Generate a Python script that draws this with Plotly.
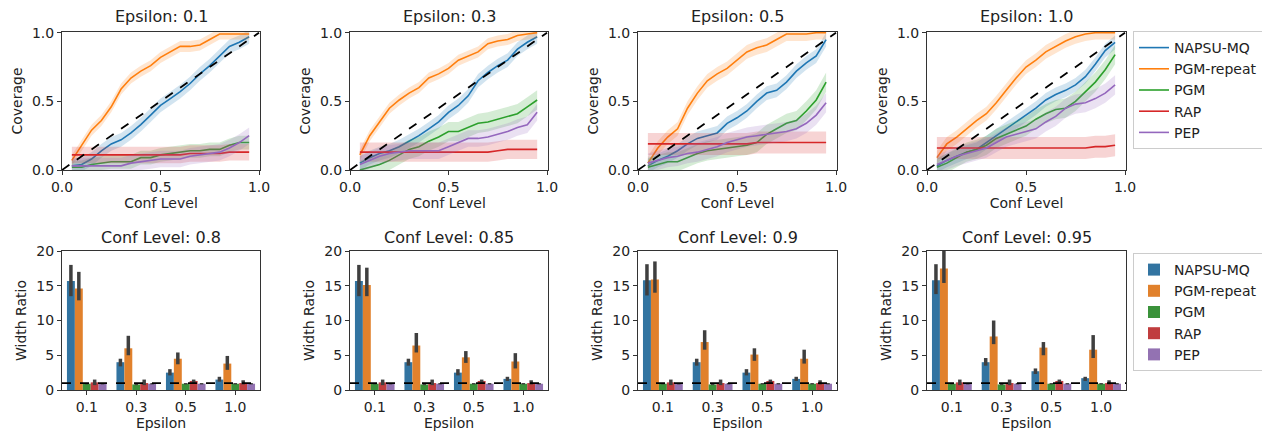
import plotly.graph_objects as go

W, H = 1270, 436
OFF = 8  # page body margin in the browser

METHODS = ["NAPSU-MQ", "PGM-repeat", "PGM", "RAP", "PEP"]
LINE_COLORS = ["#1f77b4", "#ff7f0e", "#2ca02c", "#d62728", "#9467bd"]
BAR_COLORS = ["#3274a1", "#e1812c", "#3a923a", "#c03d3e", "#9372b2"]
BAND_COLORS = ["rgba(31,119,180,0.2)", "rgba(255,127,14,0.2)", "rgba(44,160,44,0.2)",
               "rgba(214,39,40,0.2)", "rgba(148,103,189,0.2)"]

EPSILONS = ["0.1", "0.3", "0.5", "1.0"]
CONF_LEVELS = [0.05, 0.10, 0.15, 0.20, 0.25, 0.30, 0.35, 0.40, 0.45, 0.50,
               0.55, 0.60, 0.65, 0.70, 0.75, 0.80, 0.85, 0.90, 0.95]

# coverage curves, one list per method, per epsilon
cov_eps01 = [
    [0.03, 0.04, 0.08, 0.14, 0.19, 0.22, 0.27, 0.33, 0.40, 0.47, 0.52, 0.57, 0.63, 0.70, 0.76, 0.83, 0.90, 0.93, 0.97],
    [0.07, 0.18, 0.29, 0.36, 0.46, 0.59, 0.67, 0.72, 0.76, 0.82, 0.86, 0.90, 0.90, 0.91, 0.95, 0.99, 0.99, 0.99, 0.99],
    [0.02, 0.02, 0.04, 0.05, 0.06, 0.06, 0.06, 0.09, 0.09, 0.11, 0.12, 0.13, 0.14, 0.14, 0.15, 0.15, 0.18, 0.20, 0.20],
    [0.11, 0.11, 0.11, 0.11, 0.11, 0.11, 0.11, 0.11, 0.11, 0.11, 0.11, 0.11, 0.12, 0.12, 0.12, 0.12, 0.13, 0.13, 0.13],
    [0.03, 0.03, 0.03, 0.03, 0.03, 0.03, 0.05, 0.06, 0.07, 0.08, 0.08, 0.08, 0.10, 0.11, 0.12, 0.13, 0.16, 0.20, 0.25],
]
cov_eps03 = [
    [0.05, 0.09, 0.12, 0.14, 0.17, 0.21, 0.25, 0.30, 0.35, 0.42, 0.47, 0.54, 0.65, 0.71, 0.76, 0.80, 0.88, 0.93, 0.97],
    [0.11, 0.25, 0.35, 0.45, 0.51, 0.56, 0.60, 0.67, 0.70, 0.74, 0.80, 0.83, 0.86, 0.92, 0.94, 0.95, 0.98, 0.99, 1.00],
    [0.00, 0.02, 0.04, 0.07, 0.11, 0.15, 0.17, 0.21, 0.24, 0.28, 0.28, 0.31, 0.34, 0.35, 0.37, 0.39, 0.41, 0.46, 0.51],
    [0.13, 0.13, 0.13, 0.13, 0.13, 0.13, 0.13, 0.13, 0.13, 0.13, 0.13, 0.13, 0.13, 0.13, 0.14, 0.15, 0.15, 0.15, 0.15],
    [0.04, 0.07, 0.10, 0.12, 0.13, 0.14, 0.14, 0.14, 0.14, 0.17, 0.20, 0.23, 0.23, 0.24, 0.26, 0.28, 0.31, 0.33, 0.42],
]
cov_eps05 = [
    [0.03, 0.07, 0.10, 0.14, 0.19, 0.23, 0.25, 0.27, 0.34, 0.38, 0.43, 0.50, 0.56, 0.58, 0.64, 0.72, 0.78, 0.83, 0.95],
    [0.05, 0.16, 0.24, 0.30, 0.45, 0.56, 0.65, 0.70, 0.74, 0.80, 0.86, 0.89, 0.91, 0.95, 0.99, 0.99, 0.99, 1.00, 1.00],
    [0.02, 0.04, 0.06, 0.06, 0.09, 0.12, 0.14, 0.15, 0.16, 0.17, 0.18, 0.20, 0.26, 0.30, 0.34, 0.36, 0.43, 0.51, 0.64],
    [0.19, 0.19, 0.19, 0.19, 0.19, 0.19, 0.19, 0.19, 0.19, 0.19, 0.19, 0.20, 0.20, 0.20, 0.20, 0.20, 0.20, 0.20, 0.20],
    [0.05, 0.07, 0.09, 0.10, 0.12, 0.13, 0.15, 0.17, 0.20, 0.22, 0.24, 0.25, 0.26, 0.27, 0.28, 0.30, 0.34, 0.40, 0.49],
]
cov_eps10 = [
    [0.03, 0.07, 0.10, 0.13, 0.15, 0.20, 0.25, 0.30, 0.35, 0.40, 0.45, 0.51, 0.55, 0.58, 0.62, 0.68, 0.77, 0.87, 0.93],
    [0.09, 0.19, 0.24, 0.30, 0.36, 0.41, 0.49, 0.58, 0.67, 0.75, 0.80, 0.86, 0.90, 0.94, 0.97, 0.99, 1.00, 1.00, 1.00],
    [0.02, 0.05, 0.09, 0.13, 0.15, 0.18, 0.23, 0.26, 0.29, 0.32, 0.37, 0.41, 0.44, 0.45, 0.50, 0.57, 0.64, 0.73, 0.84],
    [0.16, 0.16, 0.16, 0.16, 0.16, 0.16, 0.16, 0.16, 0.16, 0.16, 0.16, 0.16, 0.16, 0.16, 0.16, 0.16, 0.17, 0.17, 0.18],
    [0.04, 0.07, 0.10, 0.12, 0.14, 0.16, 0.20, 0.24, 0.26, 0.28, 0.30, 0.35, 0.39, 0.45, 0.48, 0.49, 0.52, 0.56, 0.62],
]
COVERAGE = [cov_eps01, cov_eps03, cov_eps05, cov_eps10]
# half width of the shaded band per method, per epsilon
BAND = [
    [0.05, 0.04, 0.05, 0.06, 0.06],
    [0.05, 0.04, 0.07, 0.07, 0.06],
    [0.05, 0.05, 0.07, 0.08, 0.07],
    [0.05, 0.05, 0.07, 0.08, 0.07],
]

BAR_CONFS = ["0.8", "0.85", "0.9", "0.95"]
# width ratio per method over epsilons, and lower/upper ends of error bars
napsu_val = {"0.8": [15.7, 4.0, 2.5, 1.5], "0.85": [15.7, 4.0, 2.5, 1.6],
             "0.9": [15.8, 4.0, 2.5, 1.6], "0.95": [15.8, 4.0, 2.7, 1.7]}
napsu_lo = {"0.8": [13.5, 3.4, 2.1, 1.2], "0.85": [13.5, 3.5, 2.1, 1.3],
            "0.9": [13.6, 3.5, 2.1, 1.3], "0.95": [13.8, 3.5, 2.3, 1.3]}
napsu_hi = {"0.8": [18.0, 4.5, 3.0, 1.9], "0.85": [18.0, 4.5, 3.0, 1.9],
            "0.9": [18.1, 4.5, 3.0, 1.9], "0.95": [18.1, 4.6, 3.1, 1.9]}
repeat_val = {"0.8": [14.6, 6.0, 4.5, 3.8], "0.85": [15.1, 6.4, 4.7, 4.1],
              "0.9": [15.9, 6.9, 5.1, 4.5], "0.95": [17.5, 7.7, 6.1, 5.8]}
repeat_lo = {"0.8": [12.9, 5.0, 3.7, 2.9], "0.85": [13.5, 5.4, 3.9, 3.1],
             "0.9": [14.0, 5.8, 4.2, 3.8], "0.95": [15.4, 6.6, 5.0, 4.6]}
repeat_hi = {"0.8": [17.0, 7.8, 5.4, 4.9], "0.85": [17.6, 8.2, 5.6, 5.3],
             "0.9": [18.5, 8.6, 6.0, 5.8], "0.95": [20.0, 10.0, 6.9, 7.9]}
pgm_val = [0.9, 0.8, 0.9, 0.9]
pgm_lo = [0.8, 0.7, 0.8, 0.8]
pgm_hi = [1.0, 0.9, 1.0, 1.0]
rap_val = [1.1, 1.0, 1.3, 1.0]
rap_lo = [0.7, 0.7, 1.0, 0.8]
rap_hi = [1.5, 1.5, 1.5, 1.4]
pep_val = [0.9, 0.9, 0.9, 0.9]
pep_lo = [0.8, 0.8, 0.8, 0.8]
pep_hi = [1.0, 1.0, 1.0, 1.0]

FONT = "DejaVu Sans"
X_PX = [(62, 260), (350, 548), (638, 837), (927, 1126)]
TOP_PX = (32, 170)
BOT_PX = (251, 390)


def px_x(a):
    return (a - OFF) / W


def px_y(a):
    return 1 - (a - OFF) / H


def xd(a, b):
    return [px_x(a), px_x(b)]


def yd(a, b):
    return [px_y(b), px_y(a)]


fig = go.Figure()
layout = {}
ann = []
shapes = []

for i in range(4):
    n = i + 1
    xa, ya = f"x{n}", f"y{n}"
    for m in range(5):
        y = COVERAGE[i][m]
        bw = BAND[i][m]
        fig.add_trace(go.Scatter(x=CONF_LEVELS + CONF_LEVELS[::-1],
                                 y=[v + bw for v in y] + [v - bw for v in y][::-1],
                                 fill="toself", fillcolor=BAND_COLORS[m], line=dict(width=0),
                                 showlegend=False, hoverinfo="skip", xaxis=xa, yaxis=ya))
        fig.add_trace(go.Scatter(x=CONF_LEVELS, y=y, mode="lines", name=METHODS[m],
                                 line=dict(color=LINE_COLORS[m], width=1.6),
                                 showlegend=(i == 3), legend="legend", xaxis=xa, yaxis=ya))
    fig.add_trace(go.Scatter(x=[0, 1], y=[0, 1], mode="lines", showlegend=False,
                             line=dict(color="black", width=1.8, dash="dash"), xaxis=xa, yaxis=ya))
    layout[f"xaxis{n}"] = dict(domain=xd(*X_PX[i]), anchor=ya, range=[0, 1.005],
                               tickvals=[0, 0.5, 1.0], ticktext=["0.0", "0.5", "1.0"],
                               title=dict(text="Conf Level", standoff=3))
    layout[f"yaxis{n}"] = dict(domain=yd(*TOP_PX), anchor=xa, range=[0, 1.005],
                               tickvals=[0, 0.5, 1.0], ticktext=["0.0", "0.5", "1.0"],
                               title=dict(text="Coverage", standoff=6))
    ann.append(dict(text=f"Epsilon: {EPSILONS[i]}", x=px_x(sum(X_PX[i]) / 2), y=px_y(16),
                    xanchor="center", yanchor="middle",
                    xref="paper", yref="paper", showarrow=False, font=dict(size=16)))

for i, c in enumerate(BAR_CONFS):
    n = i + 5
    xa, ya = f"x{n}", f"y{n}"
    series = [(napsu_val[c], napsu_lo[c], napsu_hi[c]), (repeat_val[c], repeat_lo[c], repeat_hi[c]),
              (pgm_val, pgm_lo, pgm_hi), (rap_val, rap_lo, rap_hi), (pep_val, pep_lo, pep_hi)]
    for m, (v, lo, hi) in enumerate(series):
        fig.add_trace(go.Bar(x=EPSILONS, y=v, name=METHODS[m], marker=dict(color=BAR_COLORS[m], line=dict(width=0)),
                             error_y=dict(type="data", symmetric=False,
                                          array=[h - a for h, a in zip(hi, v)],
                                          arrayminus=[a - l for a, l in zip(v, lo)],
                                          color="#3f3f3f", thickness=3.5, width=0),
                             offsetgroup=str(m), showlegend=(i == 3), legend="legend2",
                             xaxis=xa, yaxis=ya))
    layout[f"xaxis{n}"] = dict(domain=xd(*X_PX[i]), anchor=ya, type="category",
                               title=dict(text="Epsilon", standoff=3))
    layout[f"yaxis{n}"] = dict(domain=yd(*BOT_PX), anchor=xa, range=[0, 20],
                               tickvals=[0, 5, 10, 15, 20],
                               title=dict(text="Width Ratio", standoff=6))
    shapes.append(dict(type="line", xref=f"{xa} domain", yref=ya, x0=0, x1=1, y0=1, y1=1,
                       line=dict(color="black", width=1.8, dash="dash")))
    ann.append(dict(text=f"Conf Level: {c}", x=px_x(sum(X_PX[i]) / 2), y=px_y(237),
                    xanchor="center", yanchor="middle",
                    xref="paper", yref="paper", showarrow=False, font=dict(size=16)))

for k in list(layout):
    layout[k].update(showline=True, mirror=True, linecolor="#333", linewidth=1,
                     ticks="outside", ticklen=4, tickcolor="#333", showgrid=False,
                     zeroline=False, tickfont=dict(size=14), fixedrange=True,
                     automargin=False)
    layout[k]["title"]["font"] = dict(size=14)

legend_style = dict(bordercolor="#cccccc", borderwidth=1, bgcolor="white",
                    font=dict(size=14), xanchor="left", yanchor="top", tracegroupgap=0)
fig.update_layout(
    width=W, height=H, margin=dict(l=0, r=0, t=0, b=0),
    paper_bgcolor="white", plot_bgcolor="white",
    font=dict(family=FONT, color="#222"),
    barmode="group", bargap=0.2, bargroupgap=0,
    annotations=ann, shapes=shapes,
    legend=dict(x=px_x(1133), y=px_y(31), **legend_style),
    legend2=dict(x=px_x(1133), y=px_y(253), itemsizing="constant", **legend_style),
    **layout,
)

fig.write_html("out.html")
